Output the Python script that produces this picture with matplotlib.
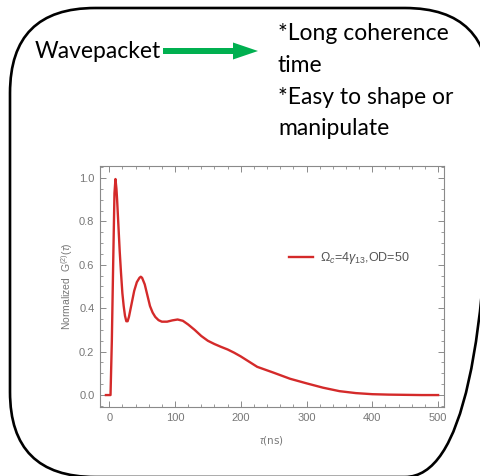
import matplotlib
matplotlib.use("Agg")
import matplotlib.pyplot as plt
from matplotlib.patches import FancyBboxPatch, FancyArrow
from matplotlib.ticker import MultipleLocator

# curve
tau_ns = [-5, 2, 4, 6, 8, 9.5, 11, 12, 14, 16, 18, 20, 22, 24, 26, 28, 30, 34,
          38, 42, 46, 48, 50, 54, 58, 62, 66, 70, 75, 80, 88, 96, 104, 112,
          120, 130, 140, 150, 160, 170, 180, 190, 200, 212, 225, 250, 275,
          300, 325, 350, 375, 400, 425, 450, 475, 500]
g2_norm = [0.0, 0.0, 0.25, 0.6, 0.93, 0.995, 0.95, 0.90, 0.78, 0.66, 0.56,
           0.47, 0.41, 0.365, 0.34, 0.34, 0.36, 0.42, 0.48, 0.52, 0.54, 0.545,
           0.54, 0.51, 0.46, 0.41, 0.38, 0.36, 0.345, 0.338, 0.338, 0.344,
           0.348, 0.342, 0.325, 0.30, 0.272, 0.25, 0.235, 0.222, 0.21, 0.195,
           0.178, 0.155, 0.13, 0.103, 0.075, 0.054, 0.034, 0.018, 0.009,
           0.004, 0.002, 0.001, 0.0, 0.0]
series_label = r'$\Omega_c$=4$\gamma_{13}$,OD=50'
x_ticks = [0, 100, 200, 300, 400, 500]
y_ticks = [0.0, 0.2, 0.4, 0.6, 0.8, 1.0]
notes = ["*Long coherence", "time", "*Easy to shape or", "manipulate"]

plt.rcParams['mathtext.fontset'] = 'custom'
plt.rcParams['mathtext.rm'] = 'Liberation Sans'
plt.rcParams['mathtext.it'] = 'Liberation Sans:italic'

W, H = 481, 476
fig = plt.figure(figsize=(W / 100, H / 100), dpi=100)

# background layer in pixel coordinates
bg = fig.add_axes([0, 0, 1, 1])
bg.set_xlim(0, W)
bg.set_ylim(H, 0)
bg.axis('off')

box = FancyBboxPatch((10, 8), 480, 469, boxstyle="round,pad=0,rounding_size=85",
                     fill=False, edgecolor='black', linewidth=1.9, clip_on=False)
bg.add_patch(box)

bg.text(35, 51, "Wavepacket", fontsize=16.5, family='Lato', va='center', ha='left')
bg.add_patch(FancyArrow(163, 51, 95, 0, width=6, head_width=17, head_length=25,
                        length_includes_head=True, color='#00b050', lw=0))
for i, line in enumerate(notes):
    bg.text(278, 34 + i * 31.5, line, fontsize=16.5, family='Lato', va='center', ha='left')

# main plot
gray = '#8a8a8a'
ax = fig.add_axes([100 / W, (H - 407) / H, 344 / W, 241 / H])
ax.plot(tau_ns, g2_norm, color='#d42a2a', lw=1.7, label=series_label)
ax.set_xlim(-14, 509)
ax.set_ylim(-0.055, 1.055)
ax.set_xticks(x_ticks)
ax.set_yticks(y_ticks)
ax.set_yticklabels([f"{v:.1f}" for v in y_ticks])
ax.xaxis.set_minor_locator(MultipleLocator(20))
ax.yaxis.set_minor_locator(MultipleLocator(0.05))
ax.tick_params(which='both', direction='in', top=True, right=True, color=gray,
               labelcolor='#777777', labelsize=8)
ax.tick_params(which='major', length=4, width=0.7, pad=4)
ax.tick_params(which='minor', length=2, width=0.6)
for lbl in ax.get_xticklabels() + ax.get_yticklabels():
    lbl.set_family('Liberation Sans')
for s in ax.spines.values():
    s.set_color(gray)
    s.set_linewidth(0.8)

ax.set_xlabel(r'$\tau$(ns)', fontsize=7.5, color='#777777', labelpad=8)
ax.set_ylabel(r'Normalized  G$^{(2)}$($\tau$)', fontsize=7.5, color='#777777',
              family='Liberation Sans', labelpad=3)

ax.legend(loc='center left', bbox_to_anchor=(0.535, 0.618), frameon=False,
          handlelength=1.9, handletextpad=0.6, borderaxespad=0,
          labelcolor='#555555', prop={'family': 'Liberation Sans', 'size': 9})

fig.savefig("out.png", dpi=100)
